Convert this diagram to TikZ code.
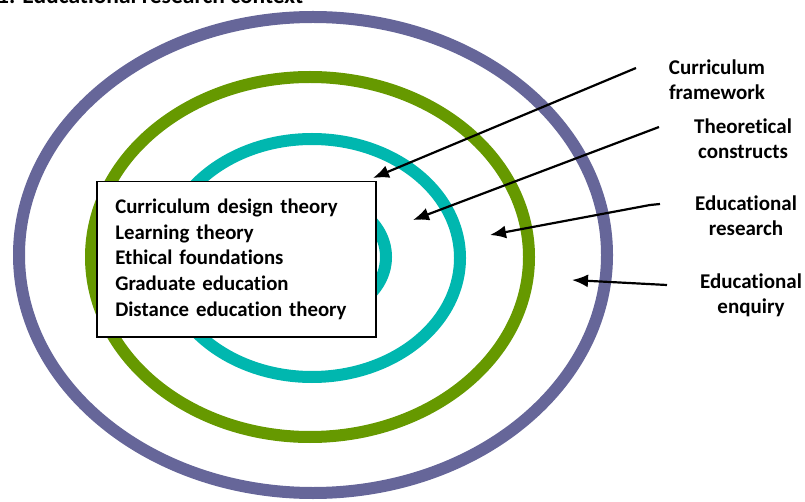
\documentclass[tikz,border=0pt]{standalone}
\usepackage{fontspec}
\setmainfont{Carlito}[Ligatures=NoCommon]
\usetikzlibrary{arrows.meta}
\definecolor{ringpurple}{RGB}{102,102,153}
\definecolor{ringgreen}{RGB}{102,153,0}
\definecolor{ringteal}{RGB}{0,183,175}
\tikzset{
	ring/.style={line width=12pt},
	pointer/.style={line width=2.2pt,-{Latex[length=16pt,width=13pt]}},
	lbl/.style={font=\bfseries\fontsize{21}{25}\selectfont,align=center,inner sep=0pt}
}
\begin{document}
\begin{tikzpicture}[x=1pt,y=-1pt]
		\useasboundingbox (0,0) rectangle (805,502);
		% title, cut off by the page
		\node[lbl,font=\bfseries\fontsize{23.5}{28}\selectfont,anchor=base west] (title) at (-3,3.5) {1. Educational research context};
		% rings
		\draw[ring,ringpurple] (313,255) ellipse (294 and 238);
		\draw[ring,ringgreen] (310,257) ellipse (219 and 180);
		\draw[ring,ringteal] (312,258) ellipse (148 and 119);
		\draw[ring,ringteal] (312,257) ellipse (74 and 60);
		% box of theories
		\node[draw,fill=white,line width=1.5pt,anchor=north west,minimum width=279pt,minimum height=155pt,
			text width=242pt,inner xsep=18pt,align=left,font=\bfseries\fontsize{20.8}{25.8}\selectfont] (theories) at (96,181)
			{Curriculum design theory\\ Learning theory\\ Ethical foundations\\ Graduate education\\ Distance education theory};
		% labels
		\node[lbl] (cf) at (717,80) {Curriculum\\ framework};
		\node[lbl] (tc) at (743,139) {Theoretical\\ constructs};
		\node[lbl] (er) at (746,216) {Educational\\ research};
		\node[lbl] (ee) at (751,295) {Educational\\ enquiry};
		% arrows
		\coordinate (cf tail) at (636,68);
		\coordinate (cf tip) at (373,178);
		\coordinate (tc tail) at (659,127);
		\coordinate (tc tip) at (413,220);
		\coordinate (er tail) at (660,204);
		\coordinate (er bend) at (650,205);
		\coordinate (er tip) at (490,235);
		\coordinate (ee tail) at (667,285);
		\coordinate (ee tip) at (572,280);
		\draw[pointer] (cf tail) -- (cf tip);
		\draw[pointer] (tc tail) -- (tc tip);
		\draw[pointer] (er tail) -- (er bend) -- (er tip);
		\draw[pointer] (ee tail) -- (ee tip);
\end{tikzpicture}
\end{document}
